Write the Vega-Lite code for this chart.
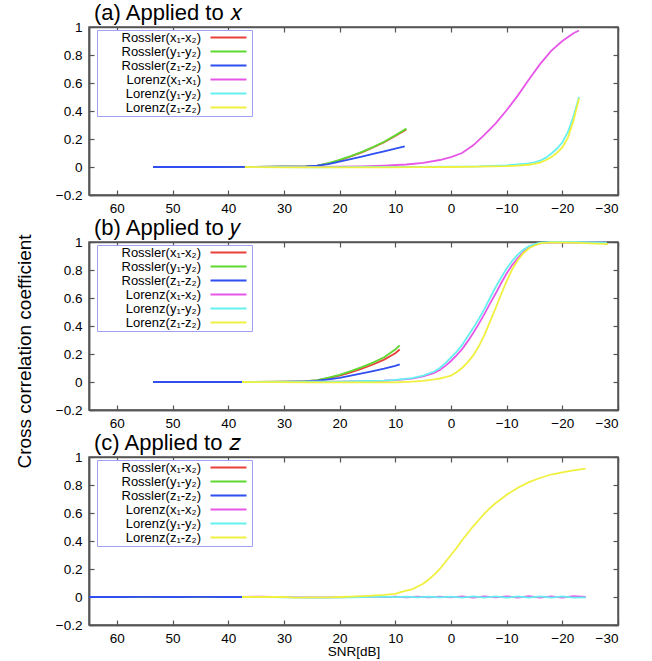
{
  "$schema": "https://vega.github.io/schema/vega-lite/v6.json",
  "padding": {"left": 14, "top": 1, "right": 5, "bottom": 2},
  "spacing": 47,
  "bounds": "flush",
  "config": {
    "font": "Liberation Sans",
    "view": {"stroke": "#555555", "strokeWidth": 1.5},
    "axis": {"grid": false, "domainColor": "#555555", "tickColor": "#555555", "tickWidth": 1.2, "domainWidth": 1.5, "tickSize": 5, "labelFontSize": 13.5, "labelColor": "#000000", "labelFont": "Liberation Sans", "minExtent": 0, "zindex": 1},
    "axisX": {"labelPadding": 6},
    "axisY": {"labelPadding": 7},
    "title": {"anchor": "start", "frame": "group", "fontSize": 22, "fontWeight": "normal", "offset": -5, "dx": 5, "font": "Liberation Sans", "color": "#000000"},
    "legend": {"title": null, "orient": "none", "legendX": 8, "legendY": 3, "strokeColor": "#a0a0f8", "padding": 1, "symbolType": "M-3.6,0L3.6,0", "symbolSize": 100, "symbolStrokeWidth": 2, "symbolOffset": 124, "labelAlign": "right", "labelOffset": -34, "labelFontSize": 13, "labelFont": "Liberation Sans", "labelColor": "#000000", "labelLimit": 0, "rowPadding": -1, "fillColor": "#ffffff"}
  },
  "resolve": {"scale": {"color": "independent"}},
  "datasets": {
    "a": [
      {"s":"Rossler(x₁-x₂)","x":53.5,"y":0},{"s":"Rossler(x₁-x₂)","x":48,"y":0},{"s":"Rossler(x₁-x₂)","x":42,"y":0.001},{"s":"Rossler(x₁-x₂)","x":36,"y":0.001},{"s":"Rossler(x₁-x₂)","x":30,"y":0.002},{"s":"Rossler(x₁-x₂)","x":28,"y":0.003},{"s":"Rossler(x₁-x₂)","x":26,"y":0.005},{"s":"Rossler(x₁-x₂)","x":24,"y":0.009},{"s":"Rossler(x₁-x₂)","x":22,"y":0.025},{"s":"Rossler(x₁-x₂)","x":20,"y":0.048},{"s":"Rossler(x₁-x₂)","x":18,"y":0.075},{"s":"Rossler(x₁-x₂)","x":16,"y":0.105},{"s":"Rossler(x₁-x₂)","x":14,"y":0.139},{"s":"Rossler(x₁-x₂)","x":12,"y":0.177},{"s":"Rossler(x₁-x₂)","x":10,"y":0.222},{"s":"Rossler(x₁-x₂)","x":8,"y":0.268},
      {"s":"Rossler(y₁-y₂)","x":53.5,"y":0},{"s":"Rossler(y₁-y₂)","x":48,"y":0},{"s":"Rossler(y₁-y₂)","x":42,"y":0.001},{"s":"Rossler(y₁-y₂)","x":36,"y":0.001},{"s":"Rossler(y₁-y₂)","x":30,"y":0.002},{"s":"Rossler(y₁-y₂)","x":28,"y":0.003},{"s":"Rossler(y₁-y₂)","x":26,"y":0.005},{"s":"Rossler(y₁-y₂)","x":24,"y":0.01},{"s":"Rossler(y₁-y₂)","x":22,"y":0.027},{"s":"Rossler(y₁-y₂)","x":20,"y":0.051},{"s":"Rossler(y₁-y₂)","x":18,"y":0.078},{"s":"Rossler(y₁-y₂)","x":16,"y":0.108},{"s":"Rossler(y₁-y₂)","x":14,"y":0.142},{"s":"Rossler(y₁-y₂)","x":12,"y":0.18},{"s":"Rossler(y₁-y₂)","x":10,"y":0.226},{"s":"Rossler(y₁-y₂)","x":8,"y":0.274},
      {"s":"Rossler(z₁-z₂)","x":53.5,"y":0},{"s":"Rossler(z₁-z₂)","x":48,"y":0},{"s":"Rossler(z₁-z₂)","x":42,"y":0},{"s":"Rossler(z₁-z₂)","x":36,"y":0.001},{"s":"Rossler(z₁-z₂)","x":30,"y":0.002},{"s":"Rossler(z₁-z₂)","x":28,"y":0.003},{"s":"Rossler(z₁-z₂)","x":26,"y":0.005},{"s":"Rossler(z₁-z₂)","x":24,"y":0.01},{"s":"Rossler(z₁-z₂)","x":22,"y":0.021},{"s":"Rossler(z₁-z₂)","x":20,"y":0.038},{"s":"Rossler(z₁-z₂)","x":18,"y":0.056},{"s":"Rossler(z₁-z₂)","x":16,"y":0.074},{"s":"Rossler(z₁-z₂)","x":14,"y":0.093},{"s":"Rossler(z₁-z₂)","x":12,"y":0.112},{"s":"Rossler(z₁-z₂)","x":10,"y":0.131},{"s":"Rossler(z₁-z₂)","x":8.3,"y":0.148},
      {"s":"Lorenz(x₁-x₁)","x":37,"y":0},{"s":"Lorenz(x₁-x₁)","x":32,"y":0},{"s":"Lorenz(x₁-x₁)","x":28,"y":0.001},{"s":"Lorenz(x₁-x₁)","x":24,"y":0.001},{"s":"Lorenz(x₁-x₁)","x":20,"y":0.002},{"s":"Lorenz(x₁-x₁)","x":16,"y":0.005},{"s":"Lorenz(x₁-x₁)","x":12,"y":0.01},{"s":"Lorenz(x₁-x₁)","x":8,"y":0.018},{"s":"Lorenz(x₁-x₁)","x":5,"y":0.03},{"s":"Lorenz(x₁-x₁)","x":2,"y":0.05},{"s":"Lorenz(x₁-x₁)","x":0,"y":0.07},{"s":"Lorenz(x₁-x₁)","x":-2,"y":0.1},{"s":"Lorenz(x₁-x₁)","x":-4,"y":0.155},{"s":"Lorenz(x₁-x₁)","x":-6,"y":0.23},{"s":"Lorenz(x₁-x₁)","x":-8,"y":0.31},{"s":"Lorenz(x₁-x₁)","x":-10,"y":0.405},{"s":"Lorenz(x₁-x₁)","x":-12,"y":0.51},{"s":"Lorenz(x₁-x₁)","x":-14,"y":0.625},{"s":"Lorenz(x₁-x₁)","x":-16,"y":0.735},{"s":"Lorenz(x₁-x₁)","x":-18,"y":0.83},{"s":"Lorenz(x₁-x₁)","x":-20,"y":0.9},{"s":"Lorenz(x₁-x₁)","x":-22,"y":0.955},{"s":"Lorenz(x₁-x₁)","x":-23,"y":0.975},
      {"s":"Lorenz(y₁-y₂)","x":37,"y":0},{"s":"Lorenz(y₁-y₂)","x":30,"y":-0.001},{"s":"Lorenz(y₁-y₂)","x":24,"y":-0.002},{"s":"Lorenz(y₁-y₂)","x":18,"y":-0.001},{"s":"Lorenz(y₁-y₂)","x":12,"y":0},{"s":"Lorenz(y₁-y₂)","x":6,"y":0.001},{"s":"Lorenz(y₁-y₂)","x":0,"y":0.002},{"s":"Lorenz(y₁-y₂)","x":-5,"y":0.004},{"s":"Lorenz(y₁-y₂)","x":-10,"y":0.012},{"s":"Lorenz(y₁-y₂)","x":-12,"y":0.018},{"s":"Lorenz(y₁-y₂)","x":-14,"y":0.026},{"s":"Lorenz(y₁-y₂)","x":-15,"y":0.033},{"s":"Lorenz(y₁-y₂)","x":-16,"y":0.045},{"s":"Lorenz(y₁-y₂)","x":-17,"y":0.065},{"s":"Lorenz(y₁-y₂)","x":-18,"y":0.095},{"s":"Lorenz(y₁-y₂)","x":-19,"y":0.13},{"s":"Lorenz(y₁-y₂)","x":-20,"y":0.175},{"s":"Lorenz(y₁-y₂)","x":-21,"y":0.25},{"s":"Lorenz(y₁-y₂)","x":-22,"y":0.36},{"s":"Lorenz(y₁-y₂)","x":-23,"y":0.5},
      {"s":"Lorenz(z₁-z₂)","x":37,"y":0},{"s":"Lorenz(z₁-z₂)","x":30,"y":-0.002},{"s":"Lorenz(z₁-z₂)","x":24,"y":-0.003},{"s":"Lorenz(z₁-z₂)","x":18,"y":-0.002},{"s":"Lorenz(z₁-z₂)","x":12,"y":-0.002},{"s":"Lorenz(z₁-z₂)","x":6,"y":-0.001},{"s":"Lorenz(z₁-z₂)","x":0,"y":0},{"s":"Lorenz(z₁-z₂)","x":-5,"y":0.002},{"s":"Lorenz(z₁-z₂)","x":-10,"y":0.006},{"s":"Lorenz(z₁-z₂)","x":-12,"y":0.01},{"s":"Lorenz(z₁-z₂)","x":-14,"y":0.016},{"s":"Lorenz(z₁-z₂)","x":-15,"y":0.022},{"s":"Lorenz(z₁-z₂)","x":-16,"y":0.032},{"s":"Lorenz(z₁-z₂)","x":-17,"y":0.048},{"s":"Lorenz(z₁-z₂)","x":-18,"y":0.07},{"s":"Lorenz(z₁-z₂)","x":-19,"y":0.1},{"s":"Lorenz(z₁-z₂)","x":-20,"y":0.14},{"s":"Lorenz(z₁-z₂)","x":-21,"y":0.21},{"s":"Lorenz(z₁-z₂)","x":-22,"y":0.33},{"s":"Lorenz(z₁-z₂)","x":-23,"y":0.49}
    ],
    "b": [
      {"s":"Rossler(x₁-x₂)","x":53.5,"y":0},{"s":"Rossler(x₁-x₂)","x":48,"y":0},{"s":"Rossler(x₁-x₂)","x":42,"y":0},{"s":"Rossler(x₁-x₂)","x":36,"y":0.001},{"s":"Rossler(x₁-x₂)","x":30,"y":0.002},{"s":"Rossler(x₁-x₂)","x":28,"y":0.003},{"s":"Rossler(x₁-x₂)","x":26,"y":0.006},{"s":"Rossler(x₁-x₂)","x":24,"y":0.012},{"s":"Rossler(x₁-x₂)","x":22,"y":0.028},{"s":"Rossler(x₁-x₂)","x":20,"y":0.046},{"s":"Rossler(x₁-x₂)","x":18,"y":0.069},{"s":"Rossler(x₁-x₂)","x":16,"y":0.095},{"s":"Rossler(x₁-x₂)","x":14,"y":0.125},{"s":"Rossler(x₁-x₂)","x":12,"y":0.16},{"s":"Rossler(x₁-x₂)","x":10,"y":0.205},{"s":"Rossler(x₁-x₂)","x":9.2,"y":0.232},
      {"s":"Rossler(y₁-y₂)","x":53.5,"y":0},{"s":"Rossler(y₁-y₂)","x":48,"y":0},{"s":"Rossler(y₁-y₂)","x":42,"y":0},{"s":"Rossler(y₁-y₂)","x":36,"y":0.001},{"s":"Rossler(y₁-y₂)","x":30,"y":0.002},{"s":"Rossler(y₁-y₂)","x":28,"y":0.003},{"s":"Rossler(y₁-y₂)","x":26,"y":0.006},{"s":"Rossler(y₁-y₂)","x":24,"y":0.013},{"s":"Rossler(y₁-y₂)","x":22,"y":0.031},{"s":"Rossler(y₁-y₂)","x":20,"y":0.051},{"s":"Rossler(y₁-y₂)","x":18,"y":0.077},{"s":"Rossler(y₁-y₂)","x":16,"y":0.106},{"s":"Rossler(y₁-y₂)","x":14,"y":0.138},{"s":"Rossler(y₁-y₂)","x":12,"y":0.177},{"s":"Rossler(y₁-y₂)","x":10,"y":0.232},{"s":"Rossler(y₁-y₂)","x":9.2,"y":0.262},
      {"s":"Rossler(z₁-z₂)","x":53.5,"y":0},{"s":"Rossler(z₁-z₂)","x":48,"y":0},{"s":"Rossler(z₁-z₂)","x":42,"y":0},{"s":"Rossler(z₁-z₂)","x":36,"y":0},{"s":"Rossler(z₁-z₂)","x":30,"y":0.001},{"s":"Rossler(z₁-z₂)","x":28,"y":0.002},{"s":"Rossler(z₁-z₂)","x":26,"y":0.004},{"s":"Rossler(z₁-z₂)","x":24,"y":0.009},{"s":"Rossler(z₁-z₂)","x":22,"y":0.018},{"s":"Rossler(z₁-z₂)","x":20,"y":0.03},{"s":"Rossler(z₁-z₂)","x":18,"y":0.045},{"s":"Rossler(z₁-z₂)","x":16,"y":0.062},{"s":"Rossler(z₁-z₂)","x":14,"y":0.078},{"s":"Rossler(z₁-z₂)","x":12,"y":0.095},{"s":"Rossler(z₁-z₂)","x":10,"y":0.115},{"s":"Rossler(z₁-z₂)","x":9.2,"y":0.126},
      {"s":"Lorenz(x₁-x₂)","x":37.5,"y":0},{"s":"Lorenz(x₁-x₂)","x":32,"y":0.001},{"s":"Lorenz(x₁-x₂)","x":26,"y":0.002},{"s":"Lorenz(x₁-x₂)","x":20,"y":0.003},{"s":"Lorenz(x₁-x₂)","x":15,"y":0.006},{"s":"Lorenz(x₁-x₂)","x":12,"y":0.009},{"s":"Lorenz(x₁-x₂)","x":10,"y":0.013},{"s":"Lorenz(x₁-x₂)","x":7,"y":0.024},{"s":"Lorenz(x₁-x₂)","x":5,"y":0.04},{"s":"Lorenz(x₁-x₂)","x":3,"y":0.065},{"s":"Lorenz(x₁-x₂)","x":2,"y":0.085},{"s":"Lorenz(x₁-x₂)","x":1,"y":0.115},{"s":"Lorenz(x₁-x₂)","x":0,"y":0.15},{"s":"Lorenz(x₁-x₂)","x":-1,"y":0.19},{"s":"Lorenz(x₁-x₂)","x":-2,"y":0.235},{"s":"Lorenz(x₁-x₂)","x":-3,"y":0.29},{"s":"Lorenz(x₁-x₂)","x":-4,"y":0.35},{"s":"Lorenz(x₁-x₂)","x":-5,"y":0.415},{"s":"Lorenz(x₁-x₂)","x":-6,"y":0.485},{"s":"Lorenz(x₁-x₂)","x":-7,"y":0.56},{"s":"Lorenz(x₁-x₂)","x":-8,"y":0.63},{"s":"Lorenz(x₁-x₂)","x":-9,"y":0.705},{"s":"Lorenz(x₁-x₂)","x":-10,"y":0.775},{"s":"Lorenz(x₁-x₂)","x":-11,"y":0.835},{"s":"Lorenz(x₁-x₂)","x":-12,"y":0.885},{"s":"Lorenz(x₁-x₂)","x":-13,"y":0.93},{"s":"Lorenz(x₁-x₂)","x":-14,"y":0.96},{"s":"Lorenz(x₁-x₂)","x":-15,"y":0.98},{"s":"Lorenz(x₁-x₂)","x":-16,"y":0.99},{"s":"Lorenz(x₁-x₂)","x":-18,"y":0.998},{"s":"Lorenz(x₁-x₂)","x":-22,"y":1},{"s":"Lorenz(x₁-x₂)","x":-28,"y":0.995},
      {"s":"Lorenz(y₁-y₂)","x":37.5,"y":0},{"s":"Lorenz(y₁-y₂)","x":32,"y":0.001},{"s":"Lorenz(y₁-y₂)","x":26,"y":0.002},{"s":"Lorenz(y₁-y₂)","x":20,"y":0.003},{"s":"Lorenz(y₁-y₂)","x":15,"y":0.007},{"s":"Lorenz(y₁-y₂)","x":12,"y":0.01},{"s":"Lorenz(y₁-y₂)","x":10,"y":0.015},{"s":"Lorenz(y₁-y₂)","x":7,"y":0.028},{"s":"Lorenz(y₁-y₂)","x":5,"y":0.045},{"s":"Lorenz(y₁-y₂)","x":3,"y":0.075},{"s":"Lorenz(y₁-y₂)","x":2,"y":0.1},{"s":"Lorenz(y₁-y₂)","x":1,"y":0.135},{"s":"Lorenz(y₁-y₂)","x":0,"y":0.175},{"s":"Lorenz(y₁-y₂)","x":-1,"y":0.215},{"s":"Lorenz(y₁-y₂)","x":-2,"y":0.265},{"s":"Lorenz(y₁-y₂)","x":-3,"y":0.325},{"s":"Lorenz(y₁-y₂)","x":-4,"y":0.385},{"s":"Lorenz(y₁-y₂)","x":-5,"y":0.45},{"s":"Lorenz(y₁-y₂)","x":-6,"y":0.52},{"s":"Lorenz(y₁-y₂)","x":-7,"y":0.6},{"s":"Lorenz(y₁-y₂)","x":-8,"y":0.675},{"s":"Lorenz(y₁-y₂)","x":-9,"y":0.745},{"s":"Lorenz(y₁-y₂)","x":-10,"y":0.81},{"s":"Lorenz(y₁-y₂)","x":-11,"y":0.865},{"s":"Lorenz(y₁-y₂)","x":-12,"y":0.91},{"s":"Lorenz(y₁-y₂)","x":-13,"y":0.945},{"s":"Lorenz(y₁-y₂)","x":-14,"y":0.97},{"s":"Lorenz(y₁-y₂)","x":-15,"y":0.985},{"s":"Lorenz(y₁-y₂)","x":-16,"y":0.995},{"s":"Lorenz(y₁-y₂)","x":-18,"y":1},{"s":"Lorenz(y₁-y₂)","x":-22,"y":1},{"s":"Lorenz(y₁-y₂)","x":-28,"y":0.995},
      {"s":"Lorenz(z₁-z₂)","x":37.5,"y":0},{"s":"Lorenz(z₁-z₂)","x":32,"y":-0.001},{"s":"Lorenz(z₁-z₂)","x":26,"y":-0.002},{"s":"Lorenz(z₁-z₂)","x":20,"y":-0.003},{"s":"Lorenz(z₁-z₂)","x":15,"y":-0.003},{"s":"Lorenz(z₁-z₂)","x":10,"y":-0.002},{"s":"Lorenz(z₁-z₂)","x":7,"y":0.002},{"s":"Lorenz(z₁-z₂)","x":5,"y":0.008},{"s":"Lorenz(z₁-z₂)","x":3,"y":0.018},{"s":"Lorenz(z₁-z₂)","x":2,"y":0.025},{"s":"Lorenz(z₁-z₂)","x":1,"y":0.034},{"s":"Lorenz(z₁-z₂)","x":0,"y":0.045},{"s":"Lorenz(z₁-z₂)","x":-1,"y":0.07},{"s":"Lorenz(z₁-z₂)","x":-2,"y":0.1},{"s":"Lorenz(z₁-z₂)","x":-3,"y":0.14},{"s":"Lorenz(z₁-z₂)","x":-4,"y":0.19},{"s":"Lorenz(z₁-z₂)","x":-5,"y":0.255},{"s":"Lorenz(z₁-z₂)","x":-6,"y":0.335},{"s":"Lorenz(z₁-z₂)","x":-7,"y":0.43},{"s":"Lorenz(z₁-z₂)","x":-8,"y":0.525},{"s":"Lorenz(z₁-z₂)","x":-9,"y":0.625},{"s":"Lorenz(z₁-z₂)","x":-10,"y":0.72},{"s":"Lorenz(z₁-z₂)","x":-11,"y":0.805},{"s":"Lorenz(z₁-z₂)","x":-12,"y":0.87},{"s":"Lorenz(z₁-z₂)","x":-13,"y":0.92},{"s":"Lorenz(z₁-z₂)","x":-14,"y":0.955},{"s":"Lorenz(z₁-z₂)","x":-15,"y":0.975},{"s":"Lorenz(z₁-z₂)","x":-16,"y":0.99},{"s":"Lorenz(z₁-z₂)","x":-18,"y":0.998},{"s":"Lorenz(z₁-z₂)","x":-22,"y":0.995},{"s":"Lorenz(z₁-z₂)","x":-28.2,"y":0.985}
    ],
    "c": [
      {"s":"Rossler(x₁-x₂)","x":65,"y":0},{"s":"Rossler(x₁-x₂)","x":60,"y":0},{"s":"Rossler(x₁-x₂)","x":55,"y":0.001},{"s":"Rossler(x₁-x₂)","x":50,"y":0},{"s":"Rossler(x₁-x₂)","x":45,"y":0.001},{"s":"Rossler(x₁-x₂)","x":40,"y":0},{"s":"Rossler(x₁-x₂)","x":37.5,"y":0},
      {"s":"Rossler(y₁-y₂)","x":65,"y":0},{"s":"Rossler(y₁-y₂)","x":60,"y":0},{"s":"Rossler(y₁-y₂)","x":55,"y":0.001},{"s":"Rossler(y₁-y₂)","x":50,"y":0},{"s":"Rossler(y₁-y₂)","x":45,"y":0.001},{"s":"Rossler(y₁-y₂)","x":40,"y":0},{"s":"Rossler(y₁-y₂)","x":37.5,"y":0},
      {"s":"Rossler(z₁-z₂)","x":65,"y":0},{"s":"Rossler(z₁-z₂)","x":60,"y":0},{"s":"Rossler(z₁-z₂)","x":55,"y":0.001},{"s":"Rossler(z₁-z₂)","x":50,"y":0},{"s":"Rossler(z₁-z₂)","x":45,"y":0.001},{"s":"Rossler(z₁-z₂)","x":40,"y":0},{"s":"Rossler(z₁-z₂)","x":37.5,"y":0},
      {"s":"Lorenz(x₁-x₂)","x":37.5,"y":0},{"s":"Lorenz(x₁-x₂)","x":34,"y":0.003},{"s":"Lorenz(x₁-x₂)","x":30,"y":-0.001},{"s":"Lorenz(x₁-x₂)","x":26,"y":-0.003},{"s":"Lorenz(x₁-x₂)","x":22,"y":-0.003},{"s":"Lorenz(x₁-x₂)","x":18,"y":0},{"s":"Lorenz(x₁-x₂)","x":14,"y":0.002},{"s":"Lorenz(x₁-x₂)","x":12,"y":-0.001},{"s":"Lorenz(x₁-x₂)","x":10,"y":0.002},{"s":"Lorenz(x₁-x₂)","x":8,"y":-0.002},{"s":"Lorenz(x₁-x₂)","x":6,"y":0.003},{"s":"Lorenz(x₁-x₂)","x":4,"y":-0.002},{"s":"Lorenz(x₁-x₂)","x":2,"y":0.003},{"s":"Lorenz(x₁-x₂)","x":0,"y":-0.003},{"s":"Lorenz(x₁-x₂)","x":-2,"y":0.004},{"s":"Lorenz(x₁-x₂)","x":-4,"y":-0.004},{"s":"Lorenz(x₁-x₂)","x":-6,"y":0.005},{"s":"Lorenz(x₁-x₂)","x":-8,"y":-0.003},{"s":"Lorenz(x₁-x₂)","x":-10,"y":0.005},{"s":"Lorenz(x₁-x₂)","x":-12,"y":-0.004},{"s":"Lorenz(x₁-x₂)","x":-14,"y":0.006},{"s":"Lorenz(x₁-x₂)","x":-16,"y":-0.004},{"s":"Lorenz(x₁-x₂)","x":-18,"y":0.005},{"s":"Lorenz(x₁-x₂)","x":-20,"y":-0.005},{"s":"Lorenz(x₁-x₂)","x":-22,"y":0.006},{"s":"Lorenz(x₁-x₂)","x":-24.2,"y":0},
      {"s":"Lorenz(y₁-y₂)","x":37.5,"y":0},{"s":"Lorenz(y₁-y₂)","x":34,"y":0.001},{"s":"Lorenz(y₁-y₂)","x":30,"y":-0.002},{"s":"Lorenz(y₁-y₂)","x":26,"y":-0.004},{"s":"Lorenz(y₁-y₂)","x":22,"y":-0.004},{"s":"Lorenz(y₁-y₂)","x":18,"y":-0.002},{"s":"Lorenz(y₁-y₂)","x":14,"y":0.001},{"s":"Lorenz(y₁-y₂)","x":12,"y":0.002},{"s":"Lorenz(y₁-y₂)","x":10,"y":-0.001},{"s":"Lorenz(y₁-y₂)","x":8,"y":0.002},{"s":"Lorenz(y₁-y₂)","x":6,"y":-0.003},{"s":"Lorenz(y₁-y₂)","x":4,"y":0.002},{"s":"Lorenz(y₁-y₂)","x":2,"y":-0.003},{"s":"Lorenz(y₁-y₂)","x":0,"y":0.003},{"s":"Lorenz(y₁-y₂)","x":-2,"y":-0.004},{"s":"Lorenz(y₁-y₂)","x":-4,"y":0.004},{"s":"Lorenz(y₁-y₂)","x":-6,"y":-0.004},{"s":"Lorenz(y₁-y₂)","x":-8,"y":0.004},{"s":"Lorenz(y₁-y₂)","x":-10,"y":-0.005},{"s":"Lorenz(y₁-y₂)","x":-12,"y":0.004},{"s":"Lorenz(y₁-y₂)","x":-14,"y":-0.005},{"s":"Lorenz(y₁-y₂)","x":-16,"y":0.005},{"s":"Lorenz(y₁-y₂)","x":-18,"y":-0.005},{"s":"Lorenz(y₁-y₂)","x":-20,"y":0.004},{"s":"Lorenz(y₁-y₂)","x":-22,"y":-0.005},{"s":"Lorenz(y₁-y₂)","x":-24.2,"y":-0.002},
      {"s":"Lorenz(z₁-z₂)","x":37.5,"y":0},{"s":"Lorenz(z₁-z₂)","x":30,"y":0},{"s":"Lorenz(z₁-z₂)","x":28,"y":-0.004},{"s":"Lorenz(z₁-z₂)","x":25,"y":-0.002},{"s":"Lorenz(z₁-z₂)","x":22,"y":-0.003},{"s":"Lorenz(z₁-z₂)","x":20,"y":0},{"s":"Lorenz(z₁-z₂)","x":18,"y":0.003},{"s":"Lorenz(z₁-z₂)","x":15,"y":0.008},{"s":"Lorenz(z₁-z₂)","x":12,"y":0.015},{"s":"Lorenz(z₁-z₂)","x":10,"y":0.022},{"s":"Lorenz(z₁-z₂)","x":9,"y":0.035},{"s":"Lorenz(z₁-z₂)","x":8,"y":0.045},{"s":"Lorenz(z₁-z₂)","x":7,"y":0.055},{"s":"Lorenz(z₁-z₂)","x":6,"y":0.075},{"s":"Lorenz(z₁-z₂)","x":5,"y":0.095},{"s":"Lorenz(z₁-z₂)","x":4,"y":0.125},{"s":"Lorenz(z₁-z₂)","x":3,"y":0.16},{"s":"Lorenz(z₁-z₂)","x":2,"y":0.2},{"s":"Lorenz(z₁-z₂)","x":1,"y":0.25},{"s":"Lorenz(z₁-z₂)","x":0,"y":0.3},{"s":"Lorenz(z₁-z₂)","x":-1,"y":0.35},{"s":"Lorenz(z₁-z₂)","x":-2,"y":0.405},{"s":"Lorenz(z₁-z₂)","x":-3,"y":0.455},{"s":"Lorenz(z₁-z₂)","x":-4,"y":0.505},{"s":"Lorenz(z₁-z₂)","x":-5,"y":0.55},{"s":"Lorenz(z₁-z₂)","x":-6,"y":0.595},{"s":"Lorenz(z₁-z₂)","x":-7,"y":0.635},{"s":"Lorenz(z₁-z₂)","x":-8,"y":0.67},{"s":"Lorenz(z₁-z₂)","x":-9,"y":0.7},{"s":"Lorenz(z₁-z₂)","x":-10,"y":0.73},{"s":"Lorenz(z₁-z₂)","x":-12,"y":0.78},{"s":"Lorenz(z₁-z₂)","x":-14,"y":0.82},{"s":"Lorenz(z₁-z₂)","x":-16,"y":0.85},{"s":"Lorenz(z₁-z₂)","x":-18,"y":0.875},{"s":"Lorenz(z₁-z₂)","x":-20,"y":0.89},{"s":"Lorenz(z₁-z₂)","x":-22,"y":0.905},{"s":"Lorenz(z₁-z₂)","x":-24.2,"y":0.917}
    ]
  },
  "vconcat": [
    {
      "width": 529, "height": 168,
      "title": {"text": "(a) Applied to 𝑥"},
      "data": {"name": "a"},
      "layer": [
        {"mark": {"type": "line", "strokeWidth": 1.8},
         "encoding": {
           "x": {"field": "x", "type": "quantitative", "scale": {"domain": [65, -30], "nice": false, "zero": false}, "axis": {"orient": "bottom", "values": [60,50,40,30,20,10,0,-10,-20,-30], "title": null, "ticks": false, "domain": true}},
           "y": {"field": "y", "type": "quantitative", "scale": {"domain": [-0.2, 1], "nice": false, "zero": false}, "axis": {"orient": "left", "values": [-0.2,0,0.2,0.4,0.6,0.8,1], "format": "~g", "ticks": false, "domain": true, "title": "Cross correlation  coefficient", "titleFontSize": 19, "titleFontWeight": "normal", "titleColor": "#000000", "titleX": -55, "titleY": 324}},
           "color": {"field": "s", "type": "nominal", "scale": {"domain": ["Rossler(x₁-x₂)","Rossler(y₁-y₂)","Rossler(z₁-z₂)","Lorenz(x₁-x₁)","Lorenz(y₁-y₂)","Lorenz(z₁-z₂)"], "range": ["#e8403a","#5fd930","#2f4ff0","#e657e8","#66f0f0","#f0f040"]}}
         }},
        {"mark": {"type": "line", "opacity": 0},
         "encoding": {
           "x": {"field": "x", "type": "quantitative", "axis": {"orient": "top", "offset": -168, "values": [60,50,40,30,20,10,0,-10,-20,-30], "labels": false, "title": null}},
           "y": {"field": "y", "type": "quantitative", "axis": {"orient": "right", "offset": -529, "values": [-0.2,0,0.2,0.4,0.6,0.8,1], "labels": false, "title": null}}
         }},
        {"mark": {"type": "line", "opacity": 0},
         "encoding": {
           "x": {"field": "x", "type": "quantitative", "axis": {"orient": "bottom", "offset": -168, "values": [60,50,40,30,20,10,0,-10,-20,-30], "labels": false, "title": null}},
           "y": {"field": "y", "type": "quantitative", "axis": {"orient": "left", "offset": -529, "values": [-0.2,0,0.2,0.4,0.6,0.8,1], "labels": false, "title": null}}
         }}
      ],
      "resolve": {"axis": {"x": "independent", "y": "independent"}}
    },
    {
      "width": 529, "height": 168,
      "title": {"text": "(b) Applied to 𝑦"},
      "data": {"name": "b"},
      "layer": [
        {"mark": {"type": "line", "strokeWidth": 1.8},
         "encoding": {
           "x": {"field": "x", "type": "quantitative", "scale": {"domain": [65, -30], "nice": false, "zero": false}, "axis": {"orient": "bottom", "values": [60,50,40,30,20,10,0,-10,-20,-30], "title": null, "ticks": false, "domain": true}},
           "y": {"field": "y", "type": "quantitative", "scale": {"domain": [-0.2, 1], "nice": false, "zero": false}, "axis": {"orient": "left", "values": [-0.2,0,0.2,0.4,0.6,0.8,1], "format": "~g", "ticks": false, "domain": true, "title": null}},
           "color": {"field": "s", "type": "nominal", "scale": {"domain": ["Rossler(x₁-x₂)","Rossler(y₁-y₂)","Rossler(z₁-z₂)","Lorenz(x₁-x₂)","Lorenz(y₁-y₂)","Lorenz(z₁-z₂)"], "range": ["#e8403a","#5fd930","#2f4ff0","#e657e8","#66f0f0","#f0f040"]}}
         }},
        {"mark": {"type": "line", "opacity": 0},
         "encoding": {
           "x": {"field": "x", "type": "quantitative", "axis": {"orient": "top", "offset": -168, "values": [60,50,40,30,20,10,0,-10,-20,-30], "labels": false, "title": null}},
           "y": {"field": "y", "type": "quantitative", "axis": {"orient": "right", "offset": -529, "values": [-0.2,0,0.2,0.4,0.6,0.8,1], "labels": false, "title": null}}
         }},
        {"mark": {"type": "line", "opacity": 0},
         "encoding": {
           "x": {"field": "x", "type": "quantitative", "axis": {"orient": "bottom", "offset": -168, "values": [60,50,40,30,20,10,0,-10,-20,-30], "labels": false, "title": null}},
           "y": {"field": "y", "type": "quantitative", "axis": {"orient": "left", "offset": -529, "values": [-0.2,0,0.2,0.4,0.6,0.8,1], "labels": false, "title": null}}
         }}
      ],
      "resolve": {"axis": {"x": "independent", "y": "independent"}}
    },
    {
      "width": 529, "height": 168,
      "title": {"text": "(c) Applied to 𝑧"},
      "data": {"name": "c"},
      "layer": [
        {"mark": {"type": "line", "strokeWidth": 1.8},
         "encoding": {
           "x": {"field": "x", "type": "quantitative", "scale": {"domain": [65, -30], "nice": false, "zero": false}, "axis": {"orient": "bottom", "values": [60,50,40,30,20,10,0,-10,-20,-30], "ticks": false, "domain": true, "title": "SNR[dB]", "titleFontSize": 13.5, "titleFontWeight": "normal", "titleColor": "#000000", "titlePadding": 0}},
           "y": {"field": "y", "type": "quantitative", "scale": {"domain": [-0.2, 1], "nice": false, "zero": false}, "axis": {"orient": "left", "values": [-0.2,0,0.2,0.4,0.6,0.8,1], "format": "~g", "title": null, "ticks": false, "domain": true}},
           "color": {"field": "s", "type": "nominal", "scale": {"domain": ["Rossler(x₁-x₂)","Rossler(y₁-y₂)","Rossler(z₁-z₂)","Lorenz(x₁-x₂)","Lorenz(y₁-y₂)","Lorenz(z₁-z₂)"], "range": ["#e8403a","#5fd930","#2f4ff0","#e657e8","#66f0f0","#f0f040"]}}
         }},
        {"mark": {"type": "line", "opacity": 0},
         "encoding": {
           "x": {"field": "x", "type": "quantitative", "axis": {"orient": "top", "offset": -168, "values": [60,50,40,30,20,10,0,-10,-20,-30], "labels": false, "title": null}},
           "y": {"field": "y", "type": "quantitative", "axis": {"orient": "right", "offset": -529, "values": [-0.2,0,0.2,0.4,0.6,0.8,1], "labels": false, "title": null}}
         }},
        {"mark": {"type": "line", "opacity": 0},
         "encoding": {
           "x": {"field": "x", "type": "quantitative", "axis": {"orient": "bottom", "offset": -168, "values": [60,50,40,30,20,10,0,-10,-20,-30], "labels": false, "title": null}},
           "y": {"field": "y", "type": "quantitative", "axis": {"orient": "left", "offset": -529, "values": [-0.2,0,0.2,0.4,0.6,0.8,1], "labels": false, "title": null}}
         }}
      ],
      "resolve": {"axis": {"x": "independent", "y": "independent"}}
    }
  ]
}
